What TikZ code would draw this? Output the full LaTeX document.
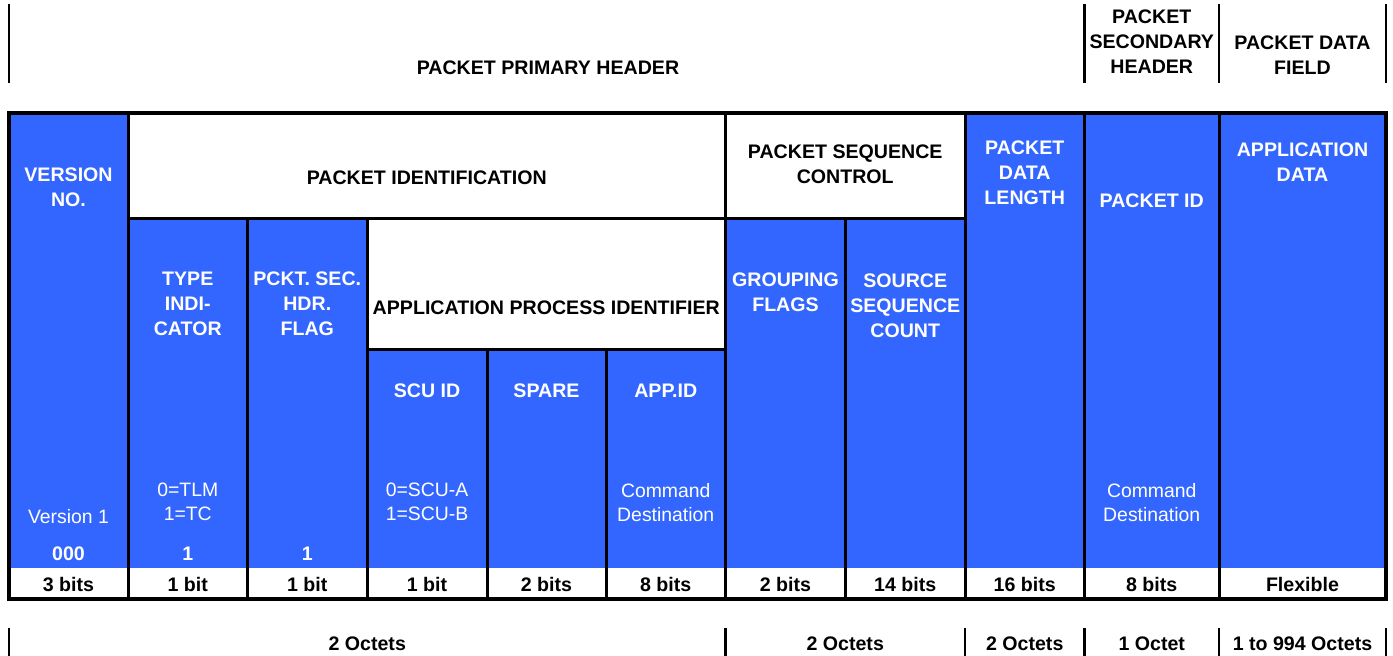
\documentclass[tikz,border=0pt]{standalone}
\usepackage{fontspec}
\setmainfont{Liberation Sans}
\definecolor{fieldblue}{RGB}{51,102,255}
\tikzset{
  grid/.style={line width=3pt, black},
  frame/.style={line width=3.6pt, black},
  span/.style={line width=2.4pt, black},
  hdr/.style={anchor=north, inner sep=0pt, align=center, text=black,
              font=\bfseries\fontsize{19.6}{25}\selectfont},
  whdr/.style={hdr, text=white},
  note/.style={anchor=north, inner sep=0pt, align=center, text=white,
               font=\fontsize{19.4}{24}\selectfont},
}
\begin{document}
\begin{tikzpicture}[x=1pt,y=-1pt]
\useasboundingbox (0,0) rectangle (1393,656);

% column edges
\def\cA{9}\def\cB{128}\def\cC{247.5}\def\cD{367}\def\cE{487}\def\cF{606}
\def\cG{725.5}\def\cH{845.5}\def\cI{965}\def\cJ{1084.5}\def\cK{1219}\def\cL{1386}

% header spans above the table
\draw[span] (\cA,4) -- (\cA,83);
\draw[span] (\cJ,4) -- (\cJ,83);
\draw[span] (\cK,4) -- (\cK,83);
\draw[span] (\cL,4) -- (\cL,83);
\node[hdr] (primary) at (548,61) {PACKET PRIMARY HEADER};
\node[hdr] (secondary) at (1151.75,10) {PACKET\\SECONDARY\\HEADER};
\node[hdr] (datafield) at (1302.5,36) {PACKET DATA\\FIELD};

% field cells
\fill[fieldblue] (\cA,113) rectangle (\cL,568);
\fill[white] (\cB,113) rectangle (\cI,218);
\fill[white] (\cD,218) rectangle (\cG,349);
\fill[white] (\cA,568) rectangle (\cL,599);

% cell borders
\draw[grid] (\cB,218) -- (\cI,218);
\draw[grid] (\cD,349) -- (\cG,349);
\foreach \x in {\cB,\cG,\cI,\cJ,\cK} \draw[grid] (\x,113) -- (\x,599);
\foreach \x in {\cC,\cD,\cH} \draw[grid] (\x,218) -- (\x,599);
\foreach \x in {\cE,\cF} \draw[grid] (\x,349) -- (\x,599);
\draw[frame] (\cA,113) rectangle (\cL,599);

% field names
\node[whdr] (version) at (68.5,168) {VERSION\\NO.};
\node[hdr] (pktid) at (426.75,171) {PACKET IDENTIFICATION};
\node[hdr] (seqctl) at (845.25,145) {PACKET SEQUENCE\\CONTROL};
\node[whdr] (datalen) at (1024.75,141) {PACKET\\DATA\\LENGTH};
\node[whdr] (packetid) at (1151.75,194) {PACKET ID};
\node[whdr] (appdata) at (1302.5,143) {APPLICATION\\DATA};
\node[whdr] (type) at (187.75,272) {TYPE\\INDI-\\CATOR};
\node[whdr] (secflag) at (307.25,272) {PCKT. SEC.\\HDR.\\FLAG};
\node[hdr] (apid) at (546.25,301) {APPLICATION PROCESS IDENTIFIER};
\node[whdr] (grouping) at (785.5,273) {GROUPING\\FLAGS};
\node[whdr] (seqcount) at (905.25,274) {SOURCE\\SEQUENCE\\COUNT};
\node[whdr] (scuid) at (427,384) {SCU ID};
\node[whdr] (spare) at (546.5,384) {SPARE};
\node[whdr] (appid) at (665.75,384) {APP.ID};

% field values
\node[note] (vername) at (68.5,509) {Version 1};
\node[note] (typeval) at (187.75,483) {0=TLM\\1=TC};
\node[note] (scuval) at (427,483) {0=SCU-A\\1=SCU-B};
\node[note] (appidval) at (665.75,483) {Command\\Destination};
\node[note] (pidval) at (1151.75,483) {Command\\Destination};
\node[whdr] (verbits) at (68.5,547) {000};
\node[whdr] (typebit) at (187.75,547) {1};
\node[whdr] (flagbit) at (307.25,547) {1};

% field sizes
\node[hdr] (s1) at (68.5,577) {3 bits};
\node[hdr] (s2) at (187.75,577) {1 bit};
\node[hdr] (s3) at (307.25,577) {1 bit};
\node[hdr] (s4) at (427,577) {1 bit};
\node[hdr] (s5) at (546.5,577) {2 bits};
\node[hdr] (s6) at (665.75,577) {8 bits};
\node[hdr] (s7) at (785.5,577) {2 bits};
\node[hdr] (s8) at (905.25,577) {14 bits};
\node[hdr] (s9) at (1024.75,577) {16 bits};
\node[hdr] (s10) at (1151.75,577) {8 bits};
\node[hdr] (s11) at (1302.5,577) {Flexible};

% octet spans below the table
\foreach \x in {\cA,\cG,\cI,\cJ,\cK,\cL} \draw[span] (\x,628) -- (\x,656);
\node[hdr] (o1) at (367.25,637) {2 Octets};
\node[hdr] (o2) at (845.25,637) {2 Octets};
\node[hdr] (o3) at (1024.75,637) {2 Octets};
\node[hdr] (o4) at (1151.75,637) {1 Octet};
\node[hdr] (o5) at (1302.5,637) {1 to 994 Octets};
\end{tikzpicture}
\end{document}
